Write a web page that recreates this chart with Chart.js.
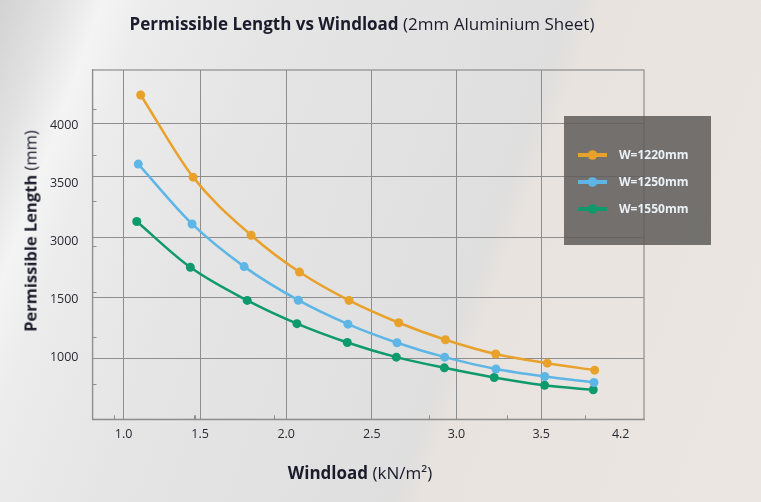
<!DOCTYPE html>
<html>
<head>
<meta charset="utf-8">
<script src="https://cdn.jsdelivr.net/npm/chart.js@4.4.1/dist/chart.umd.min.js"></script>
<style>
body{margin:0;overflow:hidden;}
#wrap{position:relative;width:761px;height:502px;
  background:linear-gradient(110deg,#d2d2d2 0%,#e2e2e2 6%,#f4f4f4 11%,#ececec 16%,#e5e5e5 30%,#dfdfdf 61%,#e8e3de 64%,#ebe6e1 100%);
  font-family:"Open Sans",sans-serif;color:#1b1b2b;}
.txt{position:absolute;white-space:nowrap;}
.txt b{font-weight:700;}
.txt span{font-weight:400;}
#title{left:0;width:724px;top:12px;text-align:center;font-size:17px;}
#xTitle{left:0;width:720px;top:461px;text-align:center;font-size:17px;}
#yTitle{left:30px;top:231px;font-size:16.5px;transform:translate(-50%,-50%) rotate(-90deg);}
canvas{position:absolute;left:0;top:0;}
</style>
</head>
<body>
<div id="wrap">
  <canvas id="chart" width="761" height="502"></canvas>
  <div class="txt" id="title"><b>Permissible Length vs Windload</b> <span>(2mm Aluminium Sheet)</span></div>
  <div class="txt" id="xTitle"><b>Windload</b> <span>(kN/m²)</span></div>
  <div class="txt" id="yTitle"><b>Permissible Length</b> <span>(mm)</span></div>
</div>
<script>
const seriesLabels=["W=1220mm","W=1250mm","W=1550mm"];
const seriesColors=["#e8a12b","#5db6e6","#0e9a6c"];

const loadW1220=[1.145,1.453,1.794,2.078,2.369,2.661,2.935,3.231,3.534,3.812];
const lenW1220=[4259,3552,3052,2735,2491,2299,2153,2030,1951,1891];
const loadW1250=[1.131,1.447,1.753,2.071,2.363,2.651,2.931,3.232,3.519,3.808];
const lenW1250=[3664,3149,2782,2493,2287,2127,2003,1901,1836,1785];
const loadW1550=[1.122,1.437,1.771,2.063,2.359,2.647,2.929,3.222,3.518,3.804];
const lenW1550=[3170,2776,2491,2291,2129,2003,1911,1828,1761,1722];

// tick positions and the labels printed at them
const xTickValues=[1.045,1.494,2.0,2.503,3.0,3.498,3.965];
const xTickLabels=["1.0","1.5","2.0","2.5","3.0","3.5","4.2"];
const xMinorTicks=[0.991,1.457,1.467,1.926,2.838,3.298,3.753];
const yTickValues=[4000,3500,3000,2500,2000];
const yTickLabels=["4000","3500","3000","1500","1000"];
const yGridValues=[4010,3555,3035,2515,1990];
const yMinorTicks=[4135,3741,3349,2957,2566,2173,1776];

const gridColor="#8e8e8e";
const tickFont={family:"Open Sans",size:12.5};

function points(xs,ys){return xs.map((x,i)=>({x:x,y:ys[i]}));}

const frameAndMinor={
  id:"frameAndMinor",
  beforeDatasetsDraw(chart){
    const {ctx,chartArea:a,scales}=chart;
    ctx.save();
    ctx.strokeStyle=gridColor;
    ctx.lineWidth=1.2;
    ctx.strokeRect(a.left,a.top,a.right-a.left,a.bottom-a.top);
    ctx.lineWidth=1;
    ctx.beginPath();
    xMinorTicks.forEach(v=>{
      const px=Math.round(scales.x.getPixelForValue(v))+0.5;
      ctx.moveTo(px,a.bottom);ctx.lineTo(px,a.bottom-4);
    });
    yMinorTicks.forEach(v=>{
      const py=Math.round(scales.y.getPixelForValue(v))+0.5;
      ctx.moveTo(a.left,py);ctx.lineTo(a.left+4,py);
    });
    ctx.stroke();
    ctx.restore();
  }
};

const boxLegend={
  id:"boxLegend",
  afterDraw(chart){
    const ctx=chart.ctx;
    ctx.save();
    ctx.fillStyle="rgba(96,93,91,0.86)";
    ctx.fillRect(564,116,147,129);
    chart.data.datasets.forEach((ds,i)=>{
      const y=155+i*27;
      ctx.strokeStyle=ds.borderColor;
      ctx.lineWidth=4;
      ctx.beginPath();ctx.moveTo(578,y);ctx.lineTo(607,y);ctx.stroke();
      ctx.fillStyle=ds.borderColor;
      ctx.beginPath();ctx.arc(592.5,y,4.8,0,Math.PI*2);ctx.fill();
      ctx.fillStyle="#eaf0f7";
      ctx.font="bold 12px 'Open Sans'";
      ctx.textBaseline="middle";
      ctx.fillText(ds.label,619,y+0.5);
    });
    ctx.restore();
  }
};

const datasets=[[loadW1220,lenW1220],[loadW1250,lenW1250],[loadW1550,lenW1550]].map((s,i)=>({
  label:seriesLabels[i],
  data:points(s[0],s[1]),
  borderColor:seriesColors[i],
  backgroundColor:seriesColors[i],
  borderWidth:2.5,
  pointRadius:4.5,
  pointBorderWidth:0,
  cubicInterpolationMode:"monotone"
}));

new Chart(document.getElementById("chart"),{
  type:"line",
  data:{datasets:datasets},
  plugins:[frameAndMinor,boxLegend],
  options:{
    responsive:false,
    animation:false,
    layout:{padding:{top:70,right:117,bottom:0,left:0}},
    plugins:{legend:{display:false},title:{display:false},tooltip:{enabled:false}},
    scales:{
      x:{
        type:"linear",min:0.862,max:4.102,
        afterBuildTicks:s=>{s.ticks=xTickValues.map(v=>({value:v}));},
        afterFit:s=>{s.height=82.7;},
        grid:{color:c=>c.index===xTickValues.length-1?"rgba(0,0,0,0)":gridColor,lineWidth:1,drawTicks:false},
        border:{color:gridColor,width:1.2},
        ticks:{callback:(v,i)=>xTickLabels[i],autoSkip:false,maxRotation:0,padding:8,color:"#2a2a35",font:tickFont}
      },
      y:{
        type:"linear",min:1468,max:4474,
        afterBuildTicks:s=>{s.ticks=yTickValues.map(v=>({value:v}));},
        afterFit:s=>{s.width=92.5;},
        grid:{display:false},
        border:{color:gridColor,width:1.2},
        ticks:{callback:(v,i)=>yTickLabels[i],autoSkip:false,padding:6,color:"#2a2a35",font:tickFont}
      },
      yGrid:{
        type:"linear",position:"right",min:1468,max:4474,
        afterBuildTicks:s=>{s.ticks=yGridValues.map(v=>({value:v}));},
        afterFit:s=>{s.width=0;},
        grid:{color:gridColor,lineWidth:1,drawTicks:false},
        border:{display:false},
        ticks:{display:false}
      }
    }
  }
});
</script>
</body>
</html>
